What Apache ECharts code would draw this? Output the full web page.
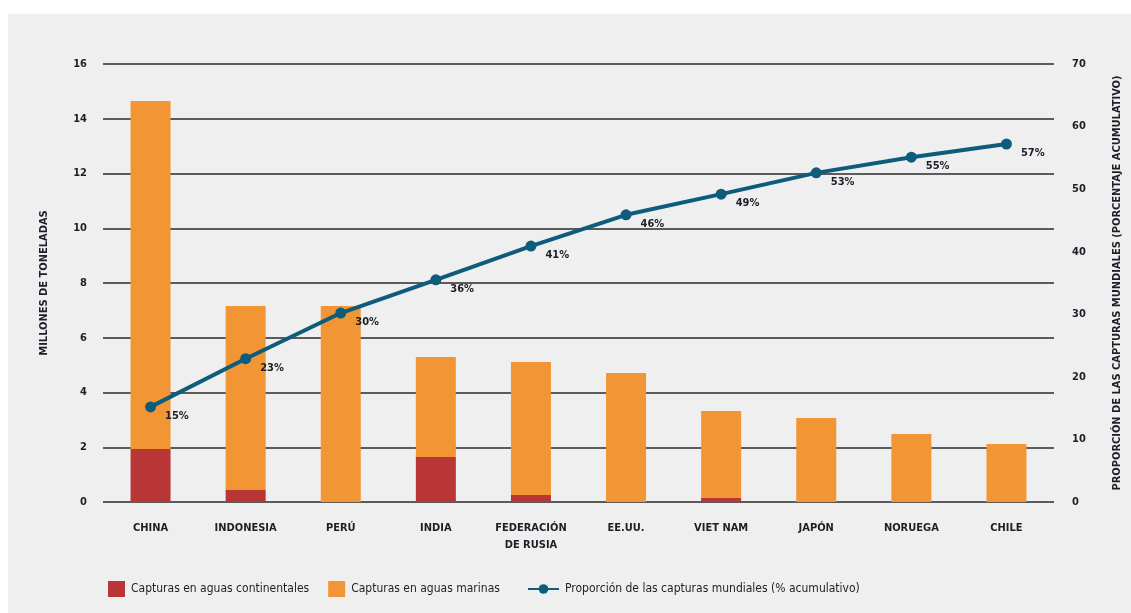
<!DOCTYPE html>
<html>
<head>
<meta charset="utf-8">
<script src="https://cdn.jsdelivr.net/npm/echarts@6/dist/echarts.min.js"></script>
<style>
html,body{margin:0;padding:0;background:#ffffff;}
#c{width:1131px;height:613px;}
</style>
</head>
<body>
<div id="c"></div>
<script>
const categories = ['CHINA','INDONESIA','PERÚ','INDIA','FEDERACIÓN\nDE RUSIA','EE.UU.','VIET NAM','JAPÓN','NORUEGA','CHILE'];
const inland = [1.94, 0.44, 0, 1.64, 0.26, 0, 0.15, 0, 0, 0];
const marine = [12.71, 6.72, 7.16, 3.66, 4.85, 4.71, 3.17, 3.07, 2.48, 2.12];
const cumulative = [15.2, 22.9, 30.2, 35.5, 40.9, 45.9, 49.2, 52.6, 55.1, 57.2];
const leftTicks = {min: 0, max: 16, interval: 2};
const rightTicks = {min: 0, max: 70, interval: 10};
const names = ['Capturas en aguas continentales', 'Capturas en aguas marinas', 'Proporción de las capturas mundiales (% acumulativo)'];

const FONT = '"Liberation Sans Narrow", "DejaVu Sans Condensed", sans-serif';
const TXT = '#1e1e28';
const chart = echarts.init(document.getElementById('c'));
const legendText = {fontFamily: FONT, fontSize: 12, color: TXT, padding: [0, 0, 0, 1]};
chart.setOption({
  animation: false,
  textStyle: {fontFamily: FONT},
  graphic: [{type: 'rect', z: -10, shape: {x: 8, y: 14, width: 1123, height: 599}, style: {fill: '#efefef'}}],
  grid: {left: 103, right: 76, top: 64, bottom: 111},
  legend: [
    {left: 103, top: 576, itemGap: 19, itemWidth: 17, itemHeight: 16,
     textStyle: legendText,
     data: [{name: names[0], icon: 'rect'}, {name: names[1], icon: 'rect'}]},
    {left: 522, top: 578, itemWidth: 31, itemHeight: 12,
     textStyle: legendText,
     data: [{name: names[2]}]}
  ],
  xAxis: {
    type: 'category', data: categories,
    axisLine: {show: false}, axisTick: {show: false},
    axisLabel: {fontFamily: FONT, fontSize: 11, fontWeight: 'bold', color: TXT, margin: 18, lineHeight: 17, interval: 0}
  },
  yAxis: [
    {type: 'value', min: leftTicks.min, max: leftTicks.max, interval: leftTicks.interval,
     name: 'MILLONES DE TONELADAS', nameLocation: 'middle', nameGap: 53, nameRotate: 90,
     nameTextStyle: {fontFamily: FONT, fontSize: 11, fontWeight: 'bold', color: TXT},
     axisLine: {show: false}, axisTick: {show: false},
     axisLabel: {fontFamily: FONT, fontSize: 11, fontWeight: 'bold', color: TXT, margin: 16},
     splitLine: {lineStyle: {color: '#2a2a2a', width: 1.5}}},
    {type: 'value', min: rightTicks.min, max: rightTicks.max, interval: rightTicks.interval,
     name: 'PROPORCIÓN DE LAS CAPTURAS MUNDIALES (PORCENTAJE ACUMULATIVO)', nameLocation: 'middle', nameGap: 58, nameRotate: 90,
     nameTextStyle: {fontFamily: FONT, fontSize: 11, fontWeight: 'bold', color: TXT},
     axisLine: {show: false}, axisTick: {show: false},
     axisLabel: {fontFamily: FONT, fontSize: 11, fontWeight: 'bold', color: TXT, margin: 18},
     splitLine: {show: false}}
  ],
  series: [
    {name: names[0], type: 'bar', stack: 's', data: inland, barWidth: 40, itemStyle: {color: '#b83636'}},
    {name: names[1], type: 'bar', stack: 's', data: marine, barWidth: 40, itemStyle: {color: '#f29534'}},
    {name: names[2], type: 'line', yAxisIndex: 1, data: cumulative,
     symbol: 'circle', symbolSize: 11,
     lineStyle: {color: '#0e5c7c', width: 4}, itemStyle: {color: '#0e5c7c'},
     label: {show: true, position: 'right', distance: 9, offset: [0, 9],
       formatter: p => Math.round(p.value) + '%',
       fontFamily: FONT, fontSize: 11, fontWeight: 'bold', color: TXT}}
  ]
});
</script>
</body>
</html>
